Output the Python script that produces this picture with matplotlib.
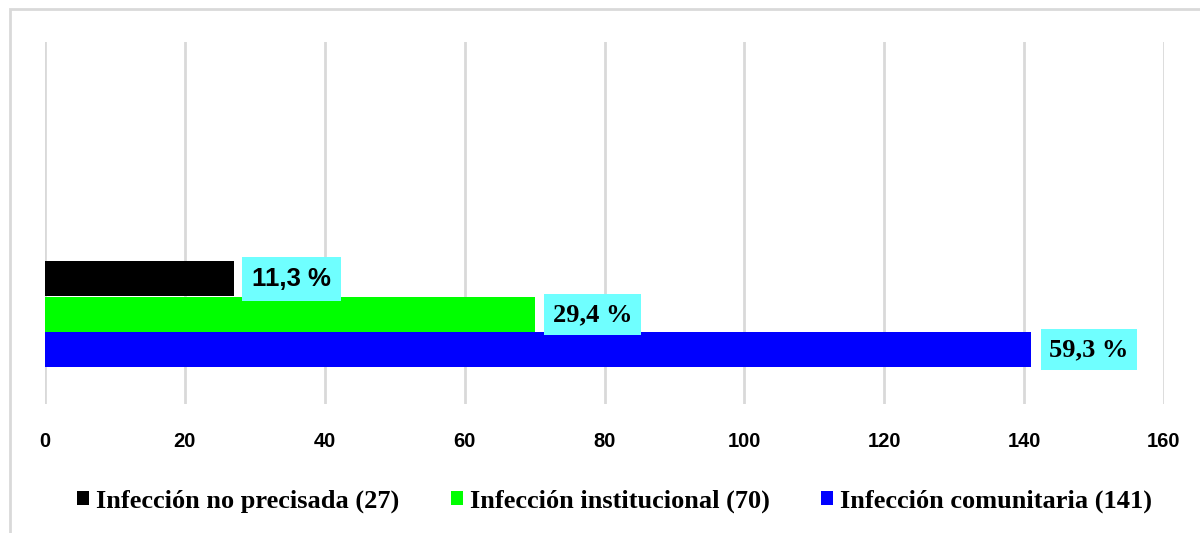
import matplotlib
matplotlib.use("Agg")
import matplotlib.pyplot as plt
from matplotlib.patches import Rectangle

# Data
series = ["Infección no precisada (27)", "Infección institucional (70)", "Infección comunitaria (141)"]
counts = [27, 70, 141]
percent_labels = ["11,3 %", "29,4 %", "59,3 %"]
colors = ["#000000", "#00FF00", "#0000FF"]
xticks = [0, 20, 40, 60, 80, 100, 120, 140, 160]

W, H = 1200, 533
fig = plt.figure(figsize=(W / 100, H / 100), dpi=100)

# outer chart border (open to the right / bottom)
fig.patches.append(Rectangle((9.5 / W, -0.1), 1.2, 1 - 9.5 / H + 0.1,
                             transform=fig.transFigure, fill=False,
                             edgecolor="#d9d9d9", linewidth=2.0))

ax_l, ax_r = 45 / W, 1164 / W
ax_b, ax_t = 1 - 404 / H, 1 - 42 / H
ax = fig.add_axes([ax_l, ax_b, ax_r - ax_l, ax_t - ax_b])
ax.set_xlim(0, 160)
ax.set_ylim(0, 1)

bar_h = 35 / 362
centers = [(404 - 279) / 362, (404 - 314.5) / 362, (404 - 349.5) / 362]
label_fonts = [
    dict(family="Liberation Sans", size=18.5),
    dict(family="Liberation Serif", size=19),
    dict(family="Liberation Serif", size=19),
]
label_pads = [0.38, 0.33, 0.33]
for name, val, lab, col, yc, fnt, pd in zip(series, counts, percent_labels, colors,
                                            centers, label_fonts, label_pads):
    ax.barh(yc, val, height=bar_h, color=col, label=name, zorder=3)
    ax.text(val + 2.6, yc, lab, ha="left", va="center", fontweight="bold",
            color="black", zorder=5,
            bbox=dict(boxstyle=f"square,pad={pd}", facecolor="#6FFFFF", edgecolor="none"),
            **fnt)

ax.set_xticks(xticks)
ax.set_xticklabels([str(t) for t in xticks], fontfamily="Liberation Sans",
                   fontweight="bold", fontsize=14.5)
ax.tick_params(axis="x", length=0, pad=20.5)
ax.set_yticks([])
ax.grid(axis="x", color="#d9d9d9", linewidth=2.0, zorder=0)
for s in ax.spines.values():
    s.set_visible(False)

leg = fig.legend(loc="center", bbox_to_anchor=(0.512, 1 - 501 / H), ncol=3,
                 frameon=False, handlelength=0.47, handleheight=0.47,
                 handletextpad=0.25, columnspacing=1.95,
                 prop=dict(family="Liberation Serif", weight="bold", size=19))

fig.savefig("out.png", dpi=100)
